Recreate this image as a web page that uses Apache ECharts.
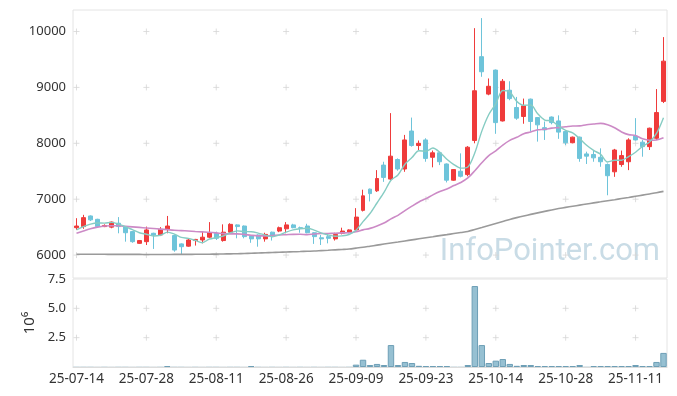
<!DOCTYPE html>
<html>
<head>
<meta charset="utf-8">
<script src="https://cdn.jsdelivr.net/npm/echarts@6/dist/echarts.min.js"></script>
<style>html,body{margin:0;padding:0;background:#fff;}#c{width:677px;height:396px;}</style>
</head>
<body>
<div id="c"></div>
<script>
const dates = ['25-07-14','25-07-15','25-07-16','25-07-17','25-07-18','25-07-21','25-07-22','25-07-23','25-07-24','25-07-25',
'25-07-28','25-07-29','25-07-30','25-07-31','25-08-01','25-08-04','25-08-05','25-08-06','25-08-07','25-08-08',
'25-08-11','25-08-12','25-08-13','25-08-14','25-08-18','25-08-19','25-08-20','25-08-21','25-08-22','25-08-25',
'25-08-26','25-08-27','25-08-28','25-08-29','25-09-01','25-09-02','25-09-03','25-09-04','25-09-05','25-09-08',
'25-09-09','25-09-10','25-09-11','25-09-12','25-09-15','25-09-16','25-09-17','25-09-18','25-09-19','25-09-22',
'25-09-23','25-09-24','25-09-25','25-09-26','25-09-29','25-09-30','25-10-01','25-10-02','25-10-10','25-10-13',
'25-10-14','25-10-15','25-10-16','25-10-17','25-10-20','25-10-21','25-10-22','25-10-23','25-10-24','25-10-27',
'25-10-28','25-10-29','25-10-30','25-10-31','25-11-03','25-11-04','25-11-05','25-11-06','25-11-07','25-11-10',
'25-11-11','25-11-12','25-11-13','25-11-14','25-11-17'];

const opens = [6490,6510,6700,6640,6510,6500,6570,6510,6420,6210,
6240,6390,6360,6460,6350,6200,6160,6260,6270,6320,
6390,6260,6410,6540,6520,6340,6360,6290,6410,6430,
6470,6540,6490,6520,6400,6310,6330,6290,6390,6410,
6450,6800,7180,7150,7610,7360,7710,7540,8220,7960,
8060,7750,7830,7630,7340,7500,7440,8050,9550,8880,
9310,8400,8950,8640,8480,8790,8460,8280,8470,8400,
8210,8010,8110,7810,7800,7750,7620,7490,7620,7670,
8130,8020,7940,8090,8750];

const closes = [6520,6670,6630,6510,6530,6590,6510,6400,6240,6260,
6450,6360,6460,6520,6090,6150,6270,6280,6320,6400,
6300,6410,6550,6510,6330,6290,6290,6370,6360,6490,
6540,6490,6480,6400,6330,6290,6300,6370,6430,6450,
6680,7060,7100,7370,7390,7770,7540,8060,7960,8000,
7730,7830,7670,7340,7530,7410,7930,8940,9280,9020,
8370,9110,8800,8450,8670,8390,8330,8240,8370,8200,
8010,8110,7730,7770,7740,7670,7420,7880,7780,8060,
8060,7940,8270,8550,9470];

const lows = [6450,6470,6610,6500,6500,6480,6390,6240,6220,6200,
6180,6110,6340,6390,6060,6020,6150,6170,6210,6300,
6270,6240,6390,6300,6300,6220,6150,6240,6260,6410,
6390,6480,6400,6390,6200,6180,6210,6260,6370,6390,
6420,6780,6960,7130,7310,7340,7510,7490,7940,7880,
7670,7570,7610,7300,7330,7390,7410,8000,9190,8860,
8170,8390,8770,8420,8350,8210,8030,8060,8340,8080,
7970,8000,7670,7630,7670,7580,7070,7400,7580,7520,
8050,7760,7880,8060,8720];

const highs = [6660,6720,6710,6650,6550,6600,6680,6520,6430,6270,
6510,6400,6500,6700,6360,6210,6300,6290,6420,6590,
6420,6550,6570,6550,6530,6350,6370,6400,6420,6510,
6590,6560,6510,6560,6410,6360,6390,6400,6490,6460,
6840,7170,7190,7520,7670,8540,7730,8150,8460,8050,
8090,7870,7840,7640,7540,7820,7950,10060,10240,9160,
9320,9150,9110,8830,8800,8800,8470,8390,8480,8500,
8220,8120,8120,7850,7880,7910,7640,7900,7870,8090,
8450,8060,8280,8970,9900];

const ma5 = [6450,6510,6555,6575,6572,6586,6554,6508,6454,6400,
6372,6342,6354,6410,6376,6316,6298,6262,6222,6284,
6314,6342,6396,6434,6420,6418,6394,6358,6328,6360,
6410,6450,6472,6480,6448,6398,6360,6338,6344,6368,
6446,6598,6744,6932,7120,7338,7434,7626,7744,7866,
7858,7916,7838,7714,7620,7556,7576,7830,8218,8516,
8708,8944,8916,8750,8680,8684,8528,8416,8400,8306,
8230,8186,8084,7964,7872,7804,7666,7696,7698,7762,
7840,7944,8022,8176,8458];

const ma20 = [6390,6430,6470,6500,6520,6525,6525,6515,6505,6495,
6485,6475,6465,6455,6445,6438,6430,6422,6415,6408,
6397,6384,6380,6380,6370,6355,6344,6343,6349,6360,
6365,6371,6372,6366,6378,6385,6387,6391,6397,6399,
6418,6451,6478,6521,6574,6648,6711,6795,6875,6951,
7010,7077,7137,7184,7244,7300,7381,7510,7652,7781,
7865,7968,8053,8107,8171,8202,8241,8250,8271,8281,
8295,8309,8312,8333,8344,8357,8331,8278,8203,8155,
8140,8081,8055,8060,8100];

const ma120 = [6015,6015,6015,6014,6014,6013,6013,6012,6012,6012,
6011,6011,6011,6011,6012,6012,6013,6014,6015,6016,
6018,6020,6022,6025,6029,6033,6037,6042,6046,6050,
6055,6059,6063,6068,6072,6079,6086,6094,6101,6109,
6124,6140,6159,6178,6197,6216,6234,6253,6272,6291,
6310,6329,6348,6366,6385,6404,6423,6458,6493,6530,
6566,6602,6638,6670,6700,6728,6755,6782,6808,6832,
6854,6874,6894,6914,6934,6953,6972,6991,7011,7031,
7052,7073,7094,7115,7140];

// volume in millions of shares
const volumes = [0.02,0.02,0.02,0.01,0.02,0.01,0.02,0.02,0.01,0.02,
0.02,0.01,0.02,0.08,0.02,0.02,0.01,0.02,0.01,0.02,
0.02,0.01,0.02,0.02,0.01,0.08,0.02,0.01,0.02,0.01,
0.02,0.01,0.02,0.01,0.02,0.01,0.02,0.02,0.01,0.02,
0.20,0.62,0.17,0.26,0.17,1.87,0.17,0.43,0.34,0.10,
0.08,0.08,0.08,0.08,0.02,0.02,0.17,6.90,1.87,0.34,
0.54,0.68,0.26,0.10,0.17,0.17,0.08,0.08,0.08,0.08,
0.08,0.08,0.17,0.02,0.08,0.08,0.08,0.08,0.08,0.08,
0.17,0.08,0.08,0.43,1.20];

const priceTicks = [6000,7000,8000,9000,10000];
const volumeTicks = [2.5,5.0];
const labelEvery = 10;

const UP = '#ef3b3b', DOWN = '#6ec4da';
const FONT = "'Noto Sans', 'DejaVu Sans', sans-serif";

const candleData = dates.map((d,i)=>[opens[i],closes[i],lows[i],highs[i]]);
const volData = volumes.map(v => v < 0.05 ? {value:v, itemStyle:{borderWidth:0}} : v);

const crossCats = dates.filter((d,i)=> i % labelEvery === 0);
const priceCross = [];
crossCats.forEach(c => priceTicks.forEach(t => priceCross.push([c,t])));
const volCross = [];
crossCats.forEach(c => volumeTicks.forEach(t => volCross.push([c,t])));
const crossSymbol = 'path://M0,5L10,5M5,0L5,10';

const chart = echarts.init(document.getElementById('c'), null, {renderer:'canvas'});
chart.setOption({
  animation:false,
  backgroundColor:'#fff',
  textStyle:{fontFamily:FONT},
  graphic:[{
    type:'text', z:0,
    x:660, y:268,
    style:{text:'InfoPointer.com', fill:'#c9dce6', font:"31px 'Roboto', 'Noto Sans', sans-serif", textAlign:'right', textVerticalAlign:'bottom'}
  }],
  grid:[
    {left:73, right:10, top:10, height:268, show:true, borderColor:'#e4e4e4', borderWidth:1, backgroundColor:'transparent'},
    {left:73, right:10, top:279, height:88, show:true, borderColor:'#e4e4e4', borderWidth:1, backgroundColor:'transparent'}
  ],
  xAxis:[
    {type:'category', gridIndex:0, data:dates, boundaryGap:true,
     axisLine:{show:false}, axisTick:{show:false}, axisLabel:{show:false}, splitLine:{show:false}},
    {type:'category', gridIndex:1, data:dates, boundaryGap:true,
     axisLine:{show:true, lineStyle:{color:'#dcdcdc'}}, axisTick:{show:false},
     axisLabel:{interval:labelEvery-1, color:'#333', fontSize:13.5, margin:5, fontFamily:FONT},
     splitLine:{show:false}}
  ],
  yAxis:[
    {type:'value', gridIndex:0, min:5590, max:10385, splitNumber:5, scale:true,
     axisLine:{show:false}, axisTick:{show:false}, splitLine:{show:false},
     axisLabel:{color:'#333', fontSize:13, margin:7, showMinLabel:false, showMaxLabel:false, fontFamily:FONT,
       formatter:v=>String(Math.round(v))}},
    {type:'value', gridIndex:1, min:0, max:7.5, interval:2.5,
     name:'10\u2076', nameLocation:'middle', nameRotate:90, nameGap:34,
     nameTextStyle:{color:'#333', fontSize:15, fontFamily:FONT},
     axisLine:{show:false}, axisTick:{show:false}, splitLine:{show:false},
     axisLabel:{color:'#333', fontSize:13, margin:7, showMinLabel:false, fontFamily:FONT,
       formatter:v=>v.toFixed(1)}}
  ],
  series:[
    {type:'scatter', xAxisIndex:0, yAxisIndex:0, data:priceCross, symbol:crossSymbol, symbolSize:6,
     itemStyle:{color:'none', borderColor:'#d6d6d6', borderWidth:1}, silent:true, z:1},
    {type:'scatter', xAxisIndex:1, yAxisIndex:1, data:volCross, symbol:crossSymbol, symbolSize:6,
     itemStyle:{color:'none', borderColor:'#d6d6d6', borderWidth:1}, silent:true, z:1},
    {type:'candlestick', xAxisIndex:0, yAxisIndex:0, data:candleData, barWidth:'64%',
     itemStyle:{color:UP, color0:DOWN, borderColor:UP, borderColor0:DOWN, borderWidth:1}, z:2},
    {type:'line', xAxisIndex:0, yAxisIndex:0, data:ma120, symbol:'none', smooth:0.3,
     lineStyle:{color:'#9a9a9a', width:1.6}, z:3},
    {type:'line', xAxisIndex:0, yAxisIndex:0, data:ma20, symbol:'none', smooth:0.3,
     lineStyle:{color:'#cc8ac6', width:1.6}, z:3},
    {type:'line', xAxisIndex:0, yAxisIndex:0, data:ma5, symbol:'none', smooth:0.3,
     lineStyle:{color:'#86ccc3', width:1.4}, z:3},
    {type:'bar', xAxisIndex:1, yAxisIndex:1, data:volData, barCategoryGap:'8%',
     itemStyle:{color:'#96c0d2', borderColor:'#6e9fb6', borderWidth:1}, z:2}
  ]
});
</script>
</body>
</html>
